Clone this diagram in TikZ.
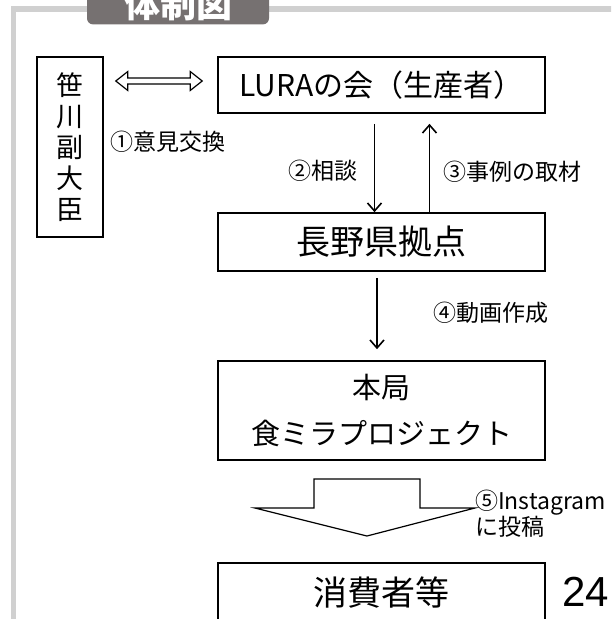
\documentclass[tikz,border=0pt]{standalone}
\usepackage{fontspec}
\setmainfont{Noto Sans CJK JP}
\newfontfamily\numfont{Liberation Sans}
\usetikzlibrary{arrows.meta,positioning,calc}
\definecolor{framegray}{HTML}{D0D0D0}
\definecolor{tabgray}{HTML}{767171}

\begin{document}
\begin{tikzpicture}[x=1pt, y=-1pt,
    box/.style={draw, line width=1.6pt, inner sep=0pt},
    lbl/.style={font=\fontsize{23}{26}\selectfont, inner sep=0pt},
    flow/.style={line width=1.6pt, -{Straight Barb[length=8pt,width=14pt]}}]
    \useasboundingbox (0,0) rectangle (611,619);
    \clip (0,0) rectangle (611,619);
    % outer frame and title tab
    \draw[framegray, line width=5.5pt] (13.5,700) -- (13.5,9) -- (700,9);
    \node[fill=tabgray, rounded corners=6pt, minimum width=182pt, minimum height=38pt,
        text=white, font=\fontsize{36}{36}\selectfont\bfseries] (title) at (178,4) {体制図};
    % boxes
    \node[box, minimum width=66pt, minimum height=180pt, align=center,
        font=\fontsize{27}{31}\selectfont] (sasa) at (70,147) {笹\\川\\副\\大\\臣};
    \node[box, minimum width=327pt, minimum height=56pt,
        font=\fontsize{30}{30}\selectfont] (lura) at (381.5,85) {LURAの会（生産者）};
    \node[box, minimum width=327pt, minimum height=58pt,
        font=\fontsize{34}{34}\selectfont] (nagano) at (381.5,242) {長野県拠点};
    \node[box, minimum width=327pt, minimum height=99pt, align=center,
        font=\fontsize{29}{46}\selectfont] (honkyoku) at (381.5,410.5) {本局\\食ミラプロジェクト};
    \node[box, minimum width=327pt, minimum height=60pt,
        font=\fontsize{34}{34}\selectfont] (shohisha) at (381.5,593) {消費者等};
    % labels
    \node[lbl, anchor=west] (l1) at (110,142) {①意見交換};
    \node[lbl, anchor=east] (l2) at (358,171) {②相談};
    \node[lbl, anchor=west] (l3) at (443,172) {③事例の取材};
    \node[lbl, anchor=west] (l4) at (433,313) {④動画作成};
    \node[lbl, anchor=west, align=left] (l5) at (475,514) {⑤Instagram\\に投稿};
    \node[anchor=west, inner sep=0pt, font=\numfont\fontsize{42}{42}\selectfont] (page) at (562,592) {24};
    % connectors
    \coordinate (da) at ([xshift=12pt,yshift=4pt]sasa.east |- lura.west);
    \coordinate (db) at ([xshift=-15pt,yshift=4pt]lura.west);
    \draw[line width=1.2pt, line join=miter] (da) -- ($(da)+(12,-9.5)$) -- ($(da)+(12,-3)$)
        -- ($(db)+(-12,-3)$) -- ($(db)+(-12,-9.5)$) -- (db) -- ($(db)+(-12,9.5)$)
        -- ($(db)+(-12,3)$) -- ($(da)+(12,3)$) -- ($(da)+(12,9.5)$) -- cycle;
    \draw[flow] ([xshift=-7pt,yshift=-10pt]lura.south) -- ([xshift=-7pt]nagano.north);
    \draw[flow] ([xshift=48pt]nagano.north) -- ([xshift=48pt,yshift=-10pt]lura.south);
    \draw[flow] ([xshift=-4.5pt,yshift=-6pt]nagano.south) -- ([xshift=-4.5pt,yshift=11pt]honkyoku.north);
    % big hollow arrow
    \draw[line width=1.2pt, line join=miter] (314,479) -- (420,479) -- (420,508) -- (475,508)
        -- (367,536) -- (255,508) -- (314,508) -- cycle;
\end{tikzpicture}
\end{document}
